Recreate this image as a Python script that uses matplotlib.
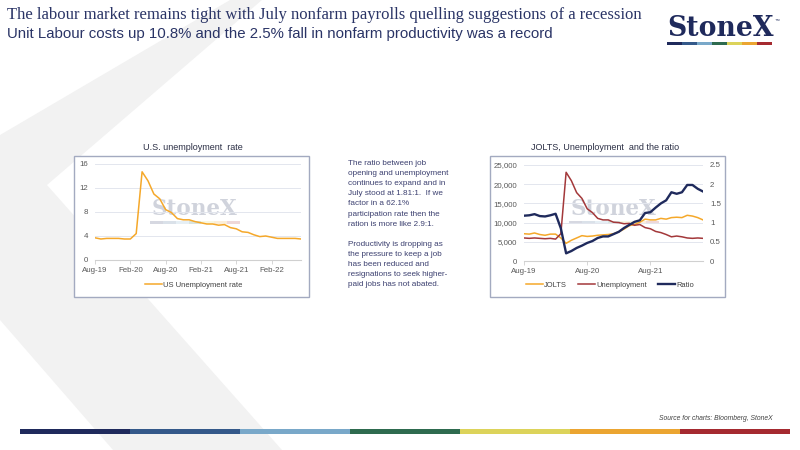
import matplotlib.pyplot as plt
from matplotlib.patches import Polygon, Rectangle
from matplotlib.ticker import FuncFormatter

# US unemployment rate, monthly Aug-19 .. Jul-22 (%)
ur = [3.7, 3.5, 3.6, 3.6, 3.6,
      3.5, 3.5, 4.4, 14.7, 13.2, 11.0, 10.2, 8.4, 7.9, 6.9, 6.7, 6.7,
      6.4, 6.2, 6.0, 6.0, 5.8, 5.9, 5.4, 5.2, 4.7, 4.6, 4.2, 3.9,
      4.0, 3.8, 3.6, 3.6, 3.6, 3.6, 3.5]
ur_ticks = ['Aug-19', 'Feb-20', 'Aug-20', 'Feb-21', 'Aug-21', 'Feb-22']

# JOLTS openings and unemployment level (thousands), Aug-19 .. Jun-22
jolts = [7100, 7000, 7300, 6900, 6700,
         7000, 7000, 6000, 4600, 5400, 6000, 6600, 6400, 6500, 6700, 6800, 6900,
         7100, 7600, 8300, 9200, 9500, 10100, 10900, 10700, 10700, 11100, 10900, 11300,
         11400, 11300, 11900, 11700, 11300, 10700]
unemp = [6000, 5900, 6000, 5900, 5800,
         5900, 5700, 7100, 23100, 20900, 17800, 16300, 13600, 12600, 11100, 10700, 10700,
         10100, 10000, 9700, 9800, 9300, 9500, 8700, 8400, 7700, 7400, 6900, 6300,
         6500, 6300, 6000, 5900, 6000, 5900]
ratio = [1.18, 1.19, 1.22, 1.17, 1.16,
         1.19, 1.23, 0.85, 0.20, 0.26, 0.34, 0.40, 0.47, 0.52, 0.60, 0.64, 0.64,
         0.70, 0.76, 0.86, 0.94, 1.02, 1.06, 1.25, 1.27, 1.39, 1.50, 1.58, 1.79,
         1.75, 1.79, 1.98, 1.98, 1.88, 1.81]
jolts_ticks = ['Aug-19', 'Aug-20', 'Aug-21']

note = ("The ratio between job\nopening and unemployment\ncontinues to expand and in\n"
        "July stood at 1.81:1.  If we\nfactor in a 62.1%\nparticipation rate then the\n"
        "ration is more like 2.9:1.\n\nProductivity is dropping as\nthe pressure to keep a job\n"
        "has been reduced and\nresignations to seek higher-\npaid jobs has not abated.")

brand = ['#1f2a5c', '#34598a', '#79a8c9', '#2e6b4f', '#dcd35a', '#eba531', '#a52a30']
navy = '#2a3466'
orange = '#f5a82a'
grey_txt = '#595959'

plt.rcParams['font.family'] = ['Liberation Sans', 'DejaVu Sans']

W, H = 800, 450
fig = plt.figure(figsize=(8, 4.5), dpi=100)

# page layer in pixel coordinates
bg = fig.add_axes([0, 0, 1, 1], zorder=-5)
bg.set_xlim(0, W)
bg.set_ylim(H, 0)
bg.axis('off')
bg.add_patch(Polygon([(230, 0), (262, 0), (47, 185), (282, 450), (113, 450), (0, 320), (0, 135)],
                     closed=True, color='#f2f2f2', lw=0))
for x0, y0, x1, y1 in [(74, 156, 309, 297), (490, 156, 725, 297)]:
    bg.add_patch(Rectangle((x0, y0), x1 - x0, y1 - y0, facecolor='white',
                           edgecolor='#a3aac0', lw=1))
# footer bar
seg = (790 - 20) / len(brand)
for i, c in enumerate(brand):
    bg.add_patch(Rectangle((20 + i * seg, 429), seg, 5, color=c, lw=0))
# logo bar
seg = (772 - 667) / len(brand)
for i, c in enumerate(brand):
    bg.add_patch(Rectangle((667 + i * seg, 42), seg, 2.5, color=c, lw=0))


def watermark(cx, cy):
    bg.text(cx, cy, 'StoneX', family='DejaVu Serif', weight='bold', fontsize=15.5,
            color='#c5c9d4', alpha=0.8, ha='center', va='center', zorder=3)
    s = 90 / len(brand)
    for i, c in enumerate(brand):
        bg.add_patch(Rectangle((cx - 45 + i * s, cy + 12), s, 3, color=c, alpha=0.18, lw=0, zorder=3))


watermark(195, 209)
watermark(614, 209)

fig.text(7 / W, 1 - 15 / H, 'The labour market remains tight with July nonfarm payrolls quelling '
         'suggestions of a recession', family='Liberation Serif', fontsize=11.95, color=navy, va='center')
fig.text(7 / W, 1 - 34 / H, 'Unit Labour costs up 10.8% and the 2.5% fall in nonfarm productivity was a record',
         fontsize=10.8, color=navy, va='center')
fig.text(667 / W, 1 - 29 / H, 'StoneX', family='DejaVu Serif', weight='bold', fontsize=19.2,
         color='#1f2a5c', va='center')
fig.text(775 / W, 1 - 20 / H, '™', fontsize=3.5, color='#1f2a5c', va='center')
fig.text(348 / W, 1 - 160 / H, note, fontsize=5.9, color='#3c4070', va='top', linespacing=1.62)
fig.text(773 / W, 1 - 418 / H, 'Source for charts: Bloomberg, StoneX', fontsize=4.9,
         style='italic', color='#404040', ha='right', va='center')


def px_axes(x0, y0, x1, y1):
    return fig.add_axes([x0 / W, 1 - y1 / H, (x1 - x0) / W, (y1 - y0) / H])


def style(ax):
    ax.patch.set_alpha(0)
    for s in ['top', 'right', 'left']:
        ax.spines[s].set_visible(False)
    ax.spines['bottom'].set_color('#d0d0d0')
    ax.spines['bottom'].set_linewidth(0.8)
    ax.grid(axis='y', color='#e3e6ee', lw=0.7)
    ax.set_axisbelow(True)
    ax.tick_params(axis='y', length=0, pad=5, labelsize=5.7, labelcolor=grey_txt)
    ax.tick_params(axis='x', length=3, width=0.6, color='#d0d0d0', pad=2, labelsize=5.7,
                   labelcolor=grey_txt)


# chart 1: unemployment rate
ax1 = px_axes(95, 164, 301, 260)
style(ax1)
ax1.plot(range(len(ur)), ur, color=orange, lw=1.1, label='US Unemployment rate')
ax1.set_xlim(0, len(ur) - 1)
ax1.set_ylim(0, 16)
ax1.set_yticks([0, 4, 8, 12, 16])
ax1.set_xticks(range(0, len(ur), 6))
ax1.set_xticklabels(ur_ticks)
ax1.legend(loc='center', bbox_to_anchor=(194 / W, 1 - 285 / H), bbox_transform=fig.transFigure,
           frameon=False, fontsize=5.5, handlelength=2.2, handletextpad=0.2, labelcolor='#404040')
fig.text(193 / W, 1 - 147 / H, 'U.S. unemployment  rate', fontsize=6.5, color='#2b2f45',
         ha='center', va='center')

# chart 2: JOLTS, unemployment and the ratio
ax2 = px_axes(524, 165, 703, 261)
style(ax2)
l1, = ax2.plot(range(len(jolts)), jolts, color=orange, lw=1.1, label='JOLTS')
l2, = ax2.plot(range(len(unemp)), unemp, color='#a3383a', lw=1.1, label='Unemployment')
ax2.set_xlim(0, len(jolts) - 1)
ax2.set_ylim(0, 25000)
ax2.set_yticks(range(0, 25001, 5000))
ax2.yaxis.set_major_formatter(FuncFormatter(lambda v, p: f'{int(v):,}'))
ax2.set_xticks(range(0, len(jolts), 12))
ax2.set_xticklabels(jolts_ticks)
ax3 = ax2.twinx()
ax3.patch.set_alpha(0)
for s in ax3.spines.values():
    s.set_visible(False)
l3, = ax3.plot(range(len(ratio)), ratio, color='#1f2a5c', lw=1.7, label='Ratio')
ax3.set_ylim(0, 2.5)
ax3.set_yticks([0, 0.5, 1, 1.5, 2, 2.5])
ax3.set_yticklabels(['0', '0.5', '1', '1.5', '2', '2.5'])
ax3.tick_params(axis='y', length=0, pad=5, labelsize=5.7, labelcolor=grey_txt)
ax3.legend([l1, l2, l3], ['JOLTS', 'Unemployment', 'Ratio'], loc='center', ncol=3,
           bbox_to_anchor=(610 / W, 1 - 285 / H), bbox_transform=fig.transFigure, frameon=False,
           fontsize=5.4, handlelength=2.2, handletextpad=0.2, columnspacing=1.5, labelcolor='#404040')
fig.text(605 / W, 1 - 147 / H, 'JOLTS, Unemployment  and the ratio', fontsize=6.5, color='#2b2f45',
         ha='center', va='center')

fig.savefig('out.png', dpi=100)
